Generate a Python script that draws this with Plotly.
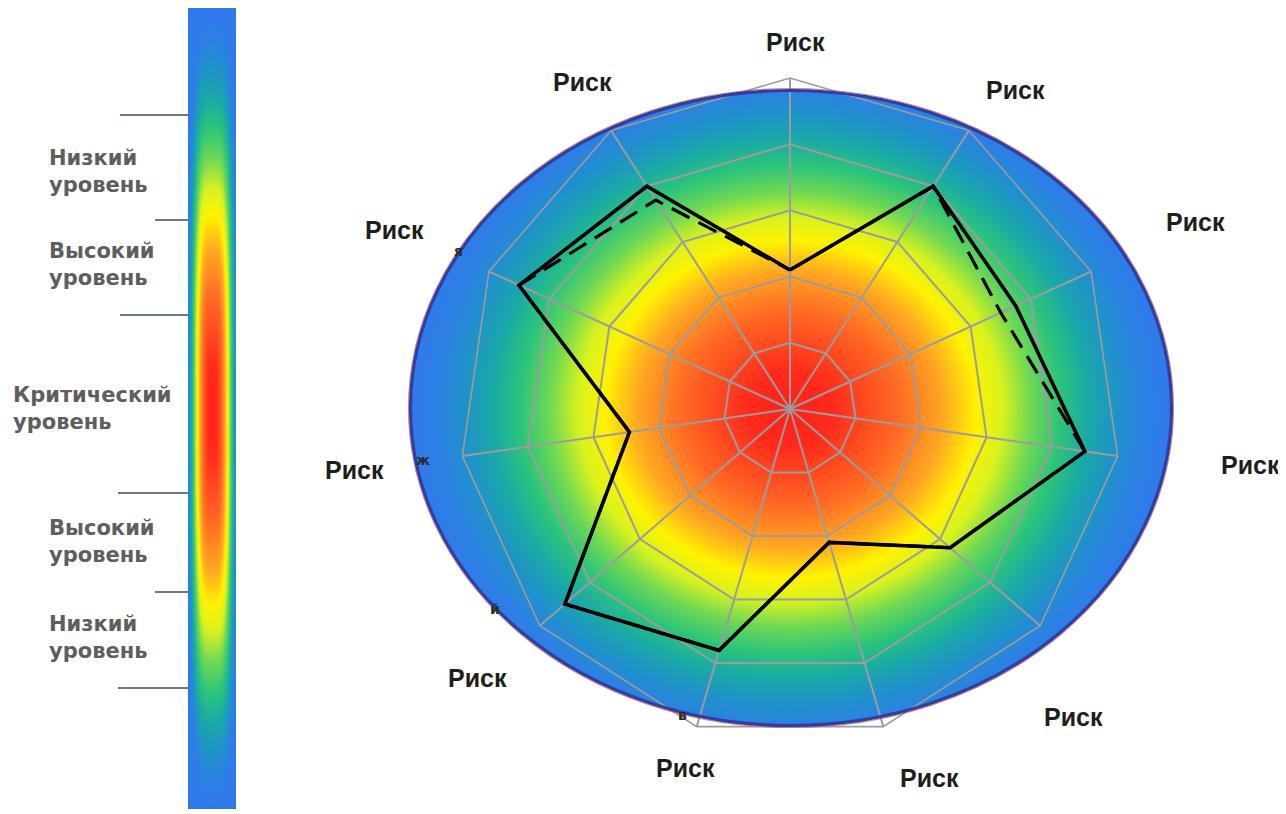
import numpy as np
import plotly.graph_objects as go

W, H = 1286, 814          # browser window
OFF = 8                   # default body margin of the page
FIG_W, FIG_H = W - OFF, H - OFF

# ---------------- data ----------------
RISK_LABELS = ["Риск"] * 11
AXIS_IDS = [f"r{i + 1}" for i in range(11)]
RISK_SOLID = [2.1, 4.0, 3.75, 4.5, 3.2, 2.1, 3.8, 4.5, 2.45, 4.5, 4.0]
RISK_DASHED = [2.1, 4.0, 3.5, 4.5, 3.2, 2.1, 3.8, 4.5, 2.45, 4.5, 3.75]
RING_VALUES = [1, 2, 3, 4, 5]
LEVEL_LABELS = ["Низкий<br>уровень", "Высокий<br>уровень", "Критический<br>уровень",
                "Высокий<br>уровень", "Низкий<br>уровень"]
FRAGMENTS = ["я", "ж", "й", "в"]

# ---------------- layout constants (page pixels) ----------------
CX, CY, R_POLAR = 790, 409, 331
ELL_CX, ELL_CY, ELL_RX, ELL_RY = 791, 408, 381, 318
LABEL_RX, LABEL_RY = 450, 370
LABEL_NUDGE = [(5, 3), (-18, -8), (-4, -33), (15, 3), (-57, 66), (13, 14),
               (22, 4), (28, 27), (10, 8), (14, -25), (36, -16)]
LEVEL_POS = [(47, 171), (47, 264), (11, 408), (47, 541), (47, 637)]
TICK_LINES = [(120, 115), (155, 220), (120, 315), (118, 493), (155, 592), (118, 688)]
FRAG_POS = [(458, 251), (423, 460), (495, 609), (682, 715)]
BAR_X0, BAR_X1, BAR_Y0, BAR_Y1 = 188, 236, 8, 810

STOPS = [(0.00, "#ff1f1a"), (0.12, "#ff2b1c"), (0.30, "#ff6b24"), (0.42, "#ffa822"),
         (0.51, "#fff200"), (0.58, "#d9f21e"), (0.66, "#6fd855"), (0.74, "#2cc47a"),
         (0.82, "#1aa8a8"), (0.90, "#2090cc"), (0.97, "#2c80e4"), (1.05, "#3079ec")]
DMAX = 1.05
COLORSCALE = [[d / DMAX, c] for d, c in STOPS]

fig = go.Figure()

# ---- elliptical gradient background ----
ex = np.arange(ELL_CX - ELL_RX, ELL_CX + ELL_RX + 2, 2.0)
ey = np.arange(ELL_CY - ELL_RY, ELL_CY + ELL_RY + 2, 2.0)
EX, EY = np.meshgrid(ex, ey)
dist = np.sqrt(((EX - CX) / 365.0) ** 2 + ((EY - CY) / 330.0) ** 2)
inside = ((EX - ELL_CX) / ELL_RX) ** 2 + ((EY - ELL_CY) / ELL_RY) ** 2 <= 0.985
EZ = np.where(inside, np.minimum(dist, DMAX), np.nan)
fig.add_trace(go.Heatmap(x=ex, y=ey, z=EZ, colorscale=COLORSCALE, zmin=0, zmax=DMAX,
                         zsmooth="best", showscale=False, hoverinfo="skip"))

# ---- vertical colour bar on the left ----
bx = np.arange(BAR_X0 + 1, BAR_X1, 2.0)
by = np.arange(BAR_Y0 + 1, BAR_Y1, 3.0)
BXm, BYm = np.meshgrid(bx, by)
bc = (BAR_Y0 + BAR_Y1) / 2 + 1
u = np.abs(BYm - bc) / ((BAR_Y1 - BAR_Y0) / 2) * DMAX
v = np.abs(BXm - (BAR_X0 + BAR_X1) / 2) / ((BAR_X1 - BAR_X0) / 2 - 1)
f = 0.92 * v ** 1.3
BZ = np.minimum((u ** 3 + f ** 3) ** (1 / 3), DMAX)
fig.add_trace(go.Heatmap(x=bx, y=by, z=BZ, colorscale=COLORSCALE, zmin=0, zmax=DMAX,
                         zsmooth="best", showscale=False, hoverinfo="skip"))

# ---- radar series ----
fig.add_trace(go.Scatterpolar(r=RISK_DASHED + RISK_DASHED[:1], theta=AXIS_IDS + AXIS_IDS[:1],
                              mode="lines", line=dict(color="black", width=3.2, dash="20px,10px"),
                              hoverinfo="skip"))
fig.add_trace(go.Scatterpolar(r=RISK_SOLID + RISK_SOLID[:1], theta=AXIS_IDS + AXIS_IDS[:1],
                              mode="lines", line=dict(color="black", width=3.6),
                              hoverinfo="skip"))

# ---- shapes ----
shapes = [
    dict(type="circle", xref="x", yref="y", x0=ELL_CX - ELL_RX, x1=ELL_CX + ELL_RX,
         y0=ELL_CY - ELL_RY, y1=ELL_CY + ELL_RY, fillcolor="#2e7ce8",
         line=dict(width=0), layer="below"),
    dict(type="circle", xref="x", yref="y", x0=ELL_CX - ELL_RX - 1.5, x1=ELL_CX + ELL_RX + 1.5,
         y0=ELL_CY - ELL_RY - 1.5, y1=ELL_CY + ELL_RY + 1.5,
         line=dict(color="rgba(205,90,100,0.75)", width=1.2), layer="above"),
    dict(type="circle", xref="x", yref="y", x0=ELL_CX - ELL_RX + 0.5, x1=ELL_CX + ELL_RX - 0.5,
         y0=ELL_CY - ELL_RY + 0.5, y1=ELL_CY + ELL_RY - 0.5,
         line=dict(color="#2f3f9e", width=3.2), layer="above"),
]
for x0, y0 in TICK_LINES:
    shapes.append(dict(type="line", xref="x", yref="y", x0=x0, x1=BAR_X0, y0=y0, y1=y0,
                       line=dict(color="#687a8c", width=2)))

# ---- annotations ----
annotations = []
n = len(RISK_LABELS)
for k, lab in enumerate(RISK_LABELS):
    th = np.deg2rad(90 - k * 360.0 / n)
    dx, dy = LABEL_NUDGE[k]
    annotations.append(dict(x=CX + LABEL_RX * np.cos(th) + dx, y=CY - LABEL_RY * np.sin(th) + dy,
                            xref="x", yref="y", text=lab, showarrow=False,
                            font=dict(family="Liberation Sans, Arial", size=25, color="#1e1e1e",
                                      weight="bold")))
for (x, y), lab in zip(LEVEL_POS, LEVEL_LABELS):
    annotations.append(dict(x=x, y=y, xref="x", yref="y", text=lab, showarrow=False,
                            xanchor="left", yanchor="middle", align="left",
                            font=dict(family="DejaVu Sans", size=21, color="#5e5e5e",
                                      weight="bold")))
for (x, y), lab in zip(FRAG_POS, FRAGMENTS):
    annotations.append(dict(x=x, y=y, xref="x", yref="y", text=lab, showarrow=False,
                            font=dict(family="DejaVu Sans", size=14, color="#2a2a2a",
                                      weight="bold")))

fig.update_layout(
    width=FIG_W, height=FIG_H, margin=dict(l=0, r=0, t=0, b=0),
    paper_bgcolor="white", plot_bgcolor="rgba(0,0,0,0)", showlegend=False,
    xaxis=dict(range=[OFF, W], visible=False, domain=[0, 1], fixedrange=True),
    yaxis=dict(range=[H, OFF], visible=False, domain=[0, 1], fixedrange=True),
    polar=dict(
        domain=dict(x=[(CX - R_POLAR - OFF) / FIG_W, (CX + R_POLAR - OFF) / FIG_W],
                    y=[(H - CY - R_POLAR) / FIG_H, (H - CY + R_POLAR) / FIG_H]),
        bgcolor="rgba(0,0,0,0)", gridshape="linear",
        radialaxis=dict(range=[0, RING_VALUES[-1]], tickvals=RING_VALUES, showticklabels=False,
                        ticks="", showline=False, gridcolor="#9c9c9c", gridwidth=1.6),
        angularaxis=dict(type="category", categoryarray=AXIS_IDS, rotation=90,
                         direction="clockwise", showticklabels=False, ticks="",
                         showline=True, linecolor="#9c9c9c", linewidth=1.6,
                         gridcolor="#9c9c9c", gridwidth=1.6),
    ),
    shapes=shapes, annotations=annotations,
)

fig.write_html("out.html")
